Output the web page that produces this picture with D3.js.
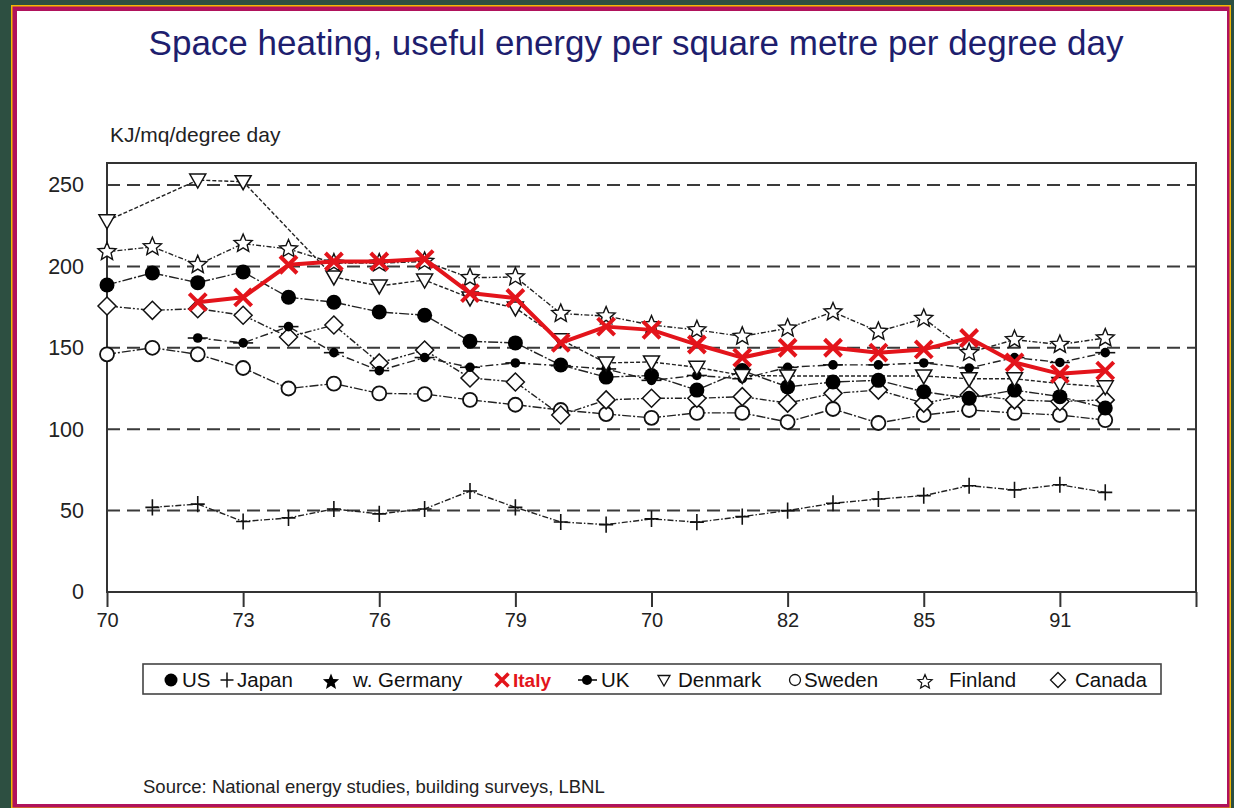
<!DOCTYPE html>
<html><head><meta charset="utf-8">
<script src="https://cdn.jsdelivr.net/npm/d3@7"></script>
<style>
html,body{margin:0;padding:0;background:#2d4f41;}
svg{display:block;font-family:"Liberation Sans",Arial,sans-serif;}
</style></head>
<body>
<svg id="c" width="1234" height="808"></svg>
<script>
// ---- data ----
const years = d3.range(1970, 1993);
const tickYears = [1970,1973,1976,1979,1982,1985,1988,1991,1994];
const tickLabels = ["70","73","76","79","70","82","85","91",""];
const yTicks = [0,50,100,150,200,250];

const us      = [188.6,196,190,196.6,181,178,172,170,154,153,139.4,132,133,124,136,126,129,130,123,119,124,120,113];
const uk      = [null,null,156,153,163,147,136,144,138,140.7,139,137,130,133,131,138,139.5,139.5,140.7,137.6,144,141,147];
const japan   = [null,52,54,43.3,45.5,51,48,51,62,52,43,41.4,44.9,42.9,46.3,50,54.5,57.1,59.2,65.3,62.7,65.9,61.2];
const italy   = [null,null,178,181,201,203,203,204.5,183.6,180.6,153,163,161,152,144,150,150,147,149,156,141,134,136];
const denmark = [228,null,253,252,null,193.5,188,191.6,180.6,174.5,155,140.7,141.3,138,133,132.7,null,null,132.7,131,131,128,126];
const finland = [209,212,201,214,210.7,202,202,203,193,193.5,171,169.5,164,161,157,162,172,160,168,147,155,152,156];
const canada  = [175.7,173,174,170,156.6,164,140.7,148.6,131.5,129,108.7,118,119,119,120,116,122,124,116,121,118,117,118];
const sweden  = [146,150,146,137.6,125,128,122,121.6,118,115,111.8,109.3,107,110,110,104.4,112.4,103.8,108.7,111.8,110,108.7,105.6];

const legendNames = ["US","Japan","w. Germany","Italy","UK","Denmark","Sweden","Finland","Canada"];

const title = "Space heating, useful energy per square metre per degree day";
const yLabel = "KJ/mq/degree day";
const source = "Source: National energy studies, building surveys, LBNL";

// ---- drawing ----
const svg = d3.select("#c");
// frame
svg.append("rect").attr("x",11).attr("y",5).attr("width",1220).attr("height",803).attr("fill","#f2b705");
svg.append("rect").attr("x",12.5).attr("y",6.5).attr("width",1217).attr("height",801).attr("fill","#b0125c");
svg.append("rect").attr("x",17).attr("y",11).attr("width",1210).attr("height",793).attr("fill","#ffffff");

const L=107,R=1196,T=163,B=592;
const x = d3.scaleLinear().domain([1970,1994]).range([L,R]);
const y = d3.scaleLinear().domain([0,263.5]).range([B,T]);

svg.append("text").attr("x",636).attr("y",55).attr("text-anchor","middle")
  .attr("font-size",35).attr("fill","#1e1e6e").text(title);
svg.append("text").attr("x",110).attr("y",142).attr("font-size",21).attr("fill","#222").text(yLabel);

// grid
svg.append("g").selectAll("line").data(yTicks.filter(d=>d>0)).join("line")
  .attr("x1",L).attr("x2",R).attr("y1",d=>y(d)).attr("y2",d=>y(d))
  .attr("stroke","#3a3a3a").attr("stroke-width",2).attr("stroke-dasharray","13,7");

// axes
const yAxis = svg.append("g").attr("transform",`translate(${L},0)`)
  .call(d3.axisLeft(y).tickValues(yTicks).tickSize(0).tickPadding(23));
yAxis.select(".domain").remove();
yAxis.selectAll("text").attr("font-size",21.5).attr("fill","#222").attr("font-family","Liberation Sans, Arial, sans-serif");

const xAxis = svg.append("g").attr("transform",`translate(0,${B})`)
  .call(d3.axisBottom(x).tickValues(tickYears).tickSize(15).tickPadding(6).tickFormat((d,i)=>tickLabels[i]));
xAxis.select(".domain").remove();
xAxis.selectAll("line").attr("stroke","#333").attr("stroke-width",2);
xAxis.selectAll("text").attr("font-size",20).attr("fill","#222").attr("font-family","Liberation Sans, Arial, sans-serif");

svg.append("rect").attr("x",L).attr("y",T).attr("width",R-L).attr("height",B-T)
  .attr("fill","none").attr("stroke","#333").attr("stroke-width",2);

// symbol paths
function starPath(r){ const pts=[]; for(let i=0;i<10;i++){const a=-Math.PI/2+i*Math.PI/5; const rr=i%2?r*0.45:r; pts.push([rr*Math.cos(a),rr*Math.sin(a)]);} return "M"+pts.map(p=>p.join(",")).join("L")+"Z"; }
const sym = {
  triDown: s=>`M${-s},${-s*0.75}L${s},${-s*0.75}L0,${s}Z`,
  diamond: s=>`M0,${-s}L${s},0L0,${s}L${-s},0Z`,
  plus: s=>`M${-s},0H${s}M0,${-s*1.15}V${s*1.15}`,
  cross: s=>`M${-s},${-s}L${s},${s}M${-s},${s}L${s},${-s}`,
  star: starPath
};

const lineGen = d3.line().x(d=>x(d.year)).y(d=>y(d.v));
function pts(arr){ return years.map((yr,i)=>({year:yr,v:arr[i]})).filter(d=>d.v!=null); }

const series = [
  {data:japan, dash:"6,2,1.5,2", kind:"plus"},
  {data:sweden, dash:"9,2,2,2", kind:"circleOpen"},
  {data:canada, dash:"7,2,2,2,2,2", kind:"diamond"},
  {data:us, dash:"10,2,2,2", kind:"dotBig"},
  {data:uk, dash:"8,3,2,3", kind:"dotSmall"},
  {data:denmark, dash:"4,2", kind:"triDown"},
  {data:finland, dash:"5,2,1.5,2", kind:"star"},
];

const gLines = svg.append("g");
const gMarks = svg.append("g");
series.forEach(s=>{
  const p = pts(s.data);
  gLines.append("path").datum(p).attr("d",lineGen).attr("fill","none")
    .attr("stroke","#222").attr("stroke-width",1.4).attr("stroke-dasharray",s.dash);
});
series.forEach(s=>{
  const p = pts(s.data);
  const g = gMarks.append("g");
  const sel = g.selectAll("g").data(p).join("g").attr("transform",d=>`translate(${x(d.year)},${y(d.v)})`);
  if(s.kind==="plus") sel.append("path").attr("d",sym.plus(7)).attr("stroke","#111").attr("stroke-width",1.6).attr("fill","none");
  if(s.kind==="circleOpen") sel.append("circle").attr("r",7).attr("fill","#fff").attr("stroke","#111").attr("stroke-width",1.8);
  if(s.kind==="diamond") sel.append("path").attr("d",sym.diamond(9)).attr("fill","#fff").attr("stroke","#111").attr("stroke-width",1.5);
  if(s.kind==="dotBig") sel.append("circle").attr("r",7.5).attr("fill","#000");
  if(s.kind==="dotSmall"){ sel.append("path").attr("d","M-10,0H10").attr("stroke","#111").attr("stroke-width",1.6); sel.append("circle").attr("r",4.8).attr("fill","#000"); }
  if(s.kind==="triDown") sel.append("path").attr("d",sym.triDown(8)).attr("fill","#fff").attr("stroke","#111").attr("stroke-width",1.5);
  if(s.kind==="star") sel.append("path").attr("d",sym.star(9.5)).attr("fill","#fff").attr("stroke","#111").attr("stroke-width",1.4);
});
// Italy on top
const ip = pts(italy);
svg.append("path").datum(ip).attr("d",lineGen).attr("fill","none").attr("stroke","#e3141b").attr("stroke-width",4).attr("stroke-linejoin","round");
svg.append("g").selectAll("path").data(ip).join("path")
  .attr("transform",d=>`translate(${x(d.year)},${y(d.v)})`).attr("d",sym.cross(8.5))
  .attr("stroke","#e3141b").attr("stroke-width",4).attr("fill","none");

// legend
svg.append("rect").attr("x",143).attr("y",664).attr("width",1018).attr("height",30)
  .attr("fill","#fff").attr("stroke","#444").attr("stroke-width",1.6);
const lg = svg.append("g");
const ly = 680, ty = 687;
lg.append("circle").attr("cx",171).attr("cy",ly).attr("r",6.5).attr("fill","#000");
lg.append("path").attr("transform",`translate(227,${ly})`).attr("d",sym.plus(6.5)).attr("stroke","#111").attr("stroke-width",1.5);
lg.append("path").attr("transform",`translate(331,${ly+2})`).attr("d",sym.star(8.5)).attr("fill","#000");
lg.append("path").attr("transform",`translate(502,${ly})`).attr("d",sym.cross(6.5)).attr("stroke","#e3141b").attr("stroke-width",3.5);
lg.append("path").attr("d",`M578,${ly}H597`).attr("stroke","#111").attr("stroke-width",1.6);
lg.append("circle").attr("cx",587).attr("cy",ly).attr("r",5).attr("fill","#000");
lg.append("path").attr("transform",`translate(664,${ly})`).attr("d",sym.triDown(6)).attr("fill","#fff").attr("stroke","#111").attr("stroke-width",1.3);
lg.append("circle").attr("cx",795).attr("cy",ly).attr("r",5.5).attr("fill","#fff").attr("stroke","#111").attr("stroke-width",1.3);
lg.append("path").attr("transform",`translate(925,${ly+2})`).attr("d",sym.star(7.5)).attr("fill","#fff").attr("stroke","#111").attr("stroke-width",1.2);
lg.append("path").attr("transform",`translate(1058,${ly})`).attr("d",sym.diamond(7.5)).attr("fill","#fff").attr("stroke","#111").attr("stroke-width",1.3);
const lx = [182,237,353,513,601,678,804,949,1075];
legendNames.forEach((n,i)=>{
  const t = lg.append("text").attr("x",lx[i]).attr("y",ty).attr("font-size",20.5).attr("fill","#111").text(n);
  if(n==="Italy") t.attr("fill","#e3141b").attr("font-weight","bold").attr("font-size",19);
});

svg.append("text").attr("x",143).attr("y",793).attr("font-size",18.5).attr("fill","#222").text(source);
</script>
</body></html>
